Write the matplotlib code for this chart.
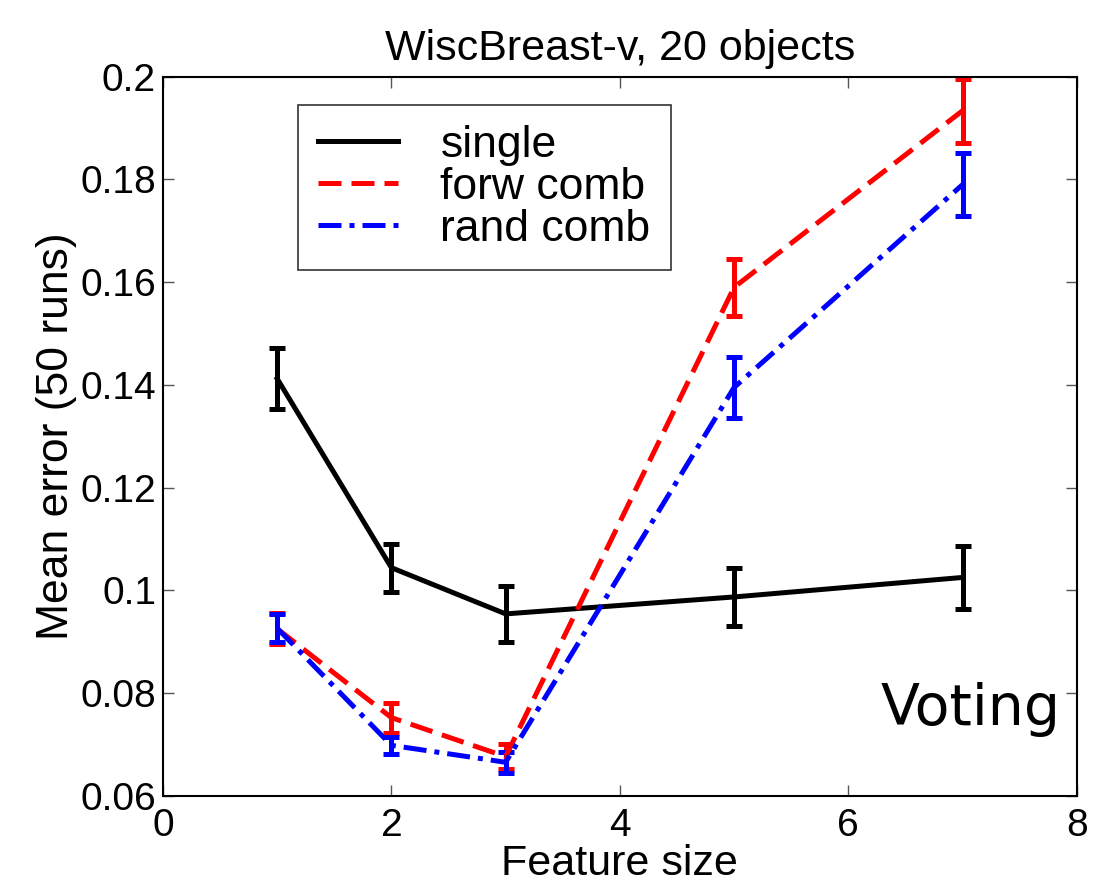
import matplotlib
matplotlib.use("Agg")
import matplotlib.pyplot as plt
import numpy as np

# Datos
feature_size = [1, 2, 3, 5, 7]
single_mean = [0.1412, 0.1044, 0.0954, 0.0987, 0.1025]
single_err = [0.0059, 0.0047, 0.0055, 0.0057, 0.0061]
forw_mean = [0.0925, 0.0752, 0.0676, 0.1590, 0.1934]
forw_err = [0.0030, 0.0029, 0.0024, 0.0056, 0.0062]
rand_mean = [0.0926, 0.0698, 0.0665, 0.1395, 0.1790]
rand_err = [0.0027, 0.0016, 0.0020, 0.0060, 0.0062]

x_ticks = [0, 2, 4, 6, 8]
y_ticks = [0.06, 0.08, 0.1, 0.12, 0.14, 0.16, 0.18, 0.2]
y_ticklabels = ["0.06", "0.08", "0.1", "0.12", "0.14", "0.16", "0.18", "0.2"]

plt.rcParams['font.family'] = ['Liberation Sans', 'DejaVu Sans']

fig = plt.figure(figsize=(11.01, 8.93), dpi=100)
ax = fig.add_axes([0.148, 0.109, 0.83, 0.805])

lw = 3.6
cap = 5.5
e1 = ax.errorbar(feature_size, single_mean, yerr=single_err, color='black', lw=lw,
                 elinewidth=lw, capsize=cap, capthick=lw, label='single')
e2 = ax.errorbar(feature_size, forw_mean, yerr=forw_err, color='red', lw=lw,
                 elinewidth=lw, capsize=cap, capthick=lw, label='forw comb')
e2.lines[0].set_dashes([4.6, 2.0])
e3 = ax.errorbar(feature_size, rand_mean, yerr=rand_err, color='blue', lw=lw,
                 elinewidth=lw, capsize=cap, capthick=lw, label='rand comb')
e3.lines[0].set_dashes([4.6, 1.6, 1.0, 1.6])

ax.set_xlim(0, 8)
ax.set_ylim(0.06, 0.2)
ax.set_xticks(x_ticks)
ax.set_yticks(y_ticks)
ax.set_yticklabels(y_ticklabels)
ax.tick_params(direction='in', length=8, width=1, color='#555555',
               top=True, right=True, labelsize=28, pad=5)
ax.tick_params(axis='x', pad=9)
for s in ax.spines.values():
    s.set_linewidth(1.5)

ax.set_title('WiscBreast-v, 20 objects', fontsize=31, pad=12)
ax.set_xlabel('Feature size', fontsize=31, labelpad=0)
ax.set_ylabel('Mean error (50 runs)', fontsize=32, labelpad=2)

leg = ax.legend(handles=[e1.lines[0], e2.lines[0], e3.lines[0]],
                labels=['single', 'forw comb', 'rand comb'],
                loc='upper left', bbox_to_anchor=(0.148, 0.961), fontsize=32,
                frameon=True, fancybox=False, handlelength=1.8, handletextpad=0.95,
                borderpad=0.45, labelspacing=0.02, borderaxespad=0)
leg.get_frame().set_edgecolor('black')
leg.get_frame().set_linewidth(1.2)

ax.text(0.982, 0.12, 'Voting', transform=ax.transAxes, ha='right', va='center',
        fontsize=41, family=['DejaVu Sans'])

plt.savefig('out.png', dpi=100)
